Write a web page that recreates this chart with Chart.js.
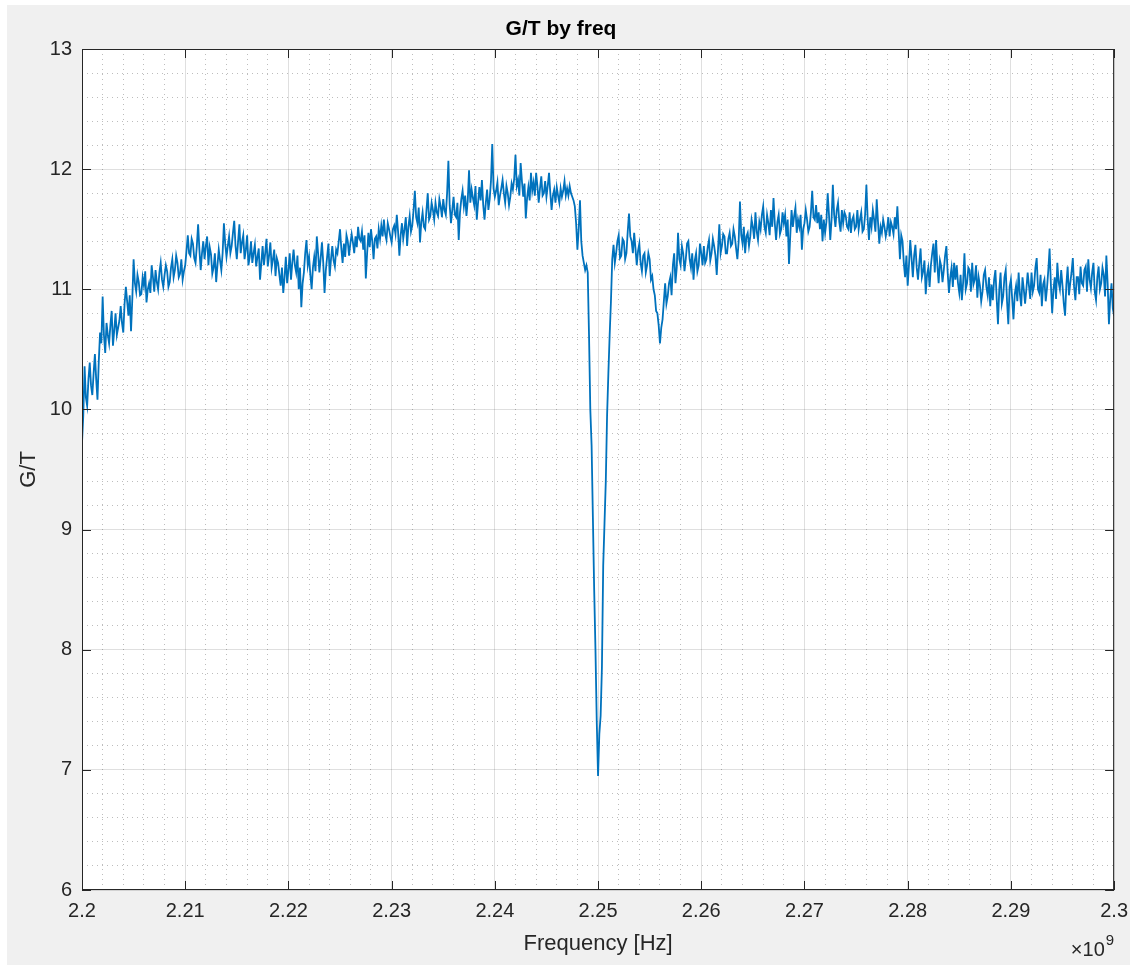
<!DOCTYPE html>
<html lang="en">
  <head>
    <meta charset="UTF-8" />
    <title>G/T by freq</title>
    <script src="https://cdn.jsdelivr.net/npm/chart.js"></script>
    <style>
      html, body { margin: 0; padding: 0; background: #ffffff; }
      #frame { position: absolute; left: 7px; top: 5px; width: 1123px; height: 960px; background: #f0f0f0; }
      #gtChart { position: absolute; left: 0; top: 0; }
    </style>
  </head>
  <body>
    <div id="frame"></div>
    <canvas id="gtChart" width="1137" height="972"></canvas>
    <script>
      // sweep: 2.20 - 2.30 GHz, one sample every 0.125 MHz, split in 20 MHz blocks
      const freqStep = 0.000125;
      const blockStarts = [2.2, 2.22, 2.24, 2.26, 2.28];

      const gt2200 = [
        9.72, 9.95, 10.36, 10.10, 10.03, 10.25, 10.39, 10.20, 10.12, 10.30,
        10.46, 10.25, 10.08, 10.40, 10.64, 10.55, 10.94, 10.62, 10.47, 10.72,
        10.62, 10.55, 10.70, 10.82, 10.53, 10.66, 10.80, 10.62, 10.68, 10.74,
        10.86, 10.72, 10.64, 10.88, 11.02, 10.90, 10.78, 10.95, 10.65, 10.92,
        11.25, 11.05, 10.98, 11.12, 11.06, 10.95, 10.96, 11.10, 11.03, 11.15,
        10.89, 11.00, 11.05, 10.97, 11.20, 11.10, 10.98, 11.16, 11.06, 11.00,
        11.14, 11.22, 11.08, 11.02, 11.12, 11.20, 11.15, 11.02, 11.06, 11.18,
        11.25, 11.10, 11.16, 11.28, 11.22, 11.10, 11.13, 11.25, 11.08, 11.15,
        11.20, 11.32, 11.45, 11.30, 11.28, 11.42, 11.38, 11.26, 11.22, 11.36,
        11.54, 11.33, 11.16, 11.30, 11.40, 11.25, 11.36, 11.44, 11.20, 11.35,
        11.29, 11.13, 11.18, 11.30, 11.06, 11.20, 11.33, 11.24, 11.16, 11.30,
        11.55, 11.38, 11.27, 11.36, 11.44, 11.30, 11.36, 11.47, 11.57, 11.36,
        11.25, 11.40, 11.54, 11.30, 11.39, 11.45, 11.25, 11.33, 11.45, 11.20,
        11.27, 11.40, 11.22, 11.30, 11.37, 11.19, 11.27, 11.34, 11.08, 11.22,
        11.36, 11.20, 11.30, 11.42, 11.19, 11.28, 11.39, 11.18, 11.25, 11.33,
        11.11, 11.26, 11.22, 11.12, 11.03, 11.18, 10.97, 11.10, 11.27, 11.05,
      ];
      const gt2220 = [
        11.16, 11.30, 11.08, 11.22, 11.33, 11.20, 11.14, 11.28, 11.00, 11.18,
        10.85, 11.05, 11.14, 11.30, 11.41, 11.20, 11.27, 11.12, 11.00, 11.18,
        11.27, 11.15, 11.44, 11.30, 11.14, 11.26, 11.39, 11.22, 10.97, 11.16,
        11.27, 11.38, 11.11, 11.25, 11.36, 11.24, 11.19, 11.33, 11.30, 11.40,
        11.50, 11.34, 11.22, 11.38, 11.27, 11.45, 11.40, 11.28, 11.38, 11.46,
        11.39, 11.30, 11.44, 11.35, 11.52, 11.42, 11.40, 11.48, 11.33, 11.45,
        11.09, 11.30, 11.47, 11.35, 11.50, 11.40, 11.25, 11.42, 11.44, 11.34,
        11.50, 11.42, 11.53, 11.44, 11.58, 11.46, 11.41, 11.55, 11.50, 11.44,
        11.39, 11.50, 11.53, 11.46, 11.62, 11.48, 11.28, 11.45, 11.55, 11.42,
        11.50, 11.60, 11.36, 11.52, 11.61, 11.48, 11.53, 11.66, 11.82, 11.60,
        11.55, 11.68, 11.39, 11.56, 11.64, 11.52, 11.50, 11.66, 11.80, 11.58,
        11.61, 11.72, 11.66, 11.58, 11.72, 11.64, 11.61, 11.75, 11.69, 11.60,
        11.75, 11.66, 11.62, 11.80, 12.07, 11.70, 11.55, 11.66, 11.77, 11.62,
        11.60, 11.72, 11.41, 11.64, 11.75, 11.82, 11.69, 11.78, 11.61, 11.74,
        11.99, 11.72, 11.83, 11.76, 11.70, 11.86, 11.58, 11.72, 11.85, 11.74,
        11.91, 11.70, 11.58, 11.72, 11.83, 11.66, 11.75, 11.90, 12.21, 11.84,
      ];
      const gt2240 = [
        11.77, 11.82, 11.89, 11.70, 11.78, 11.84, 11.91, 11.80, 11.72, 11.86,
        11.80, 11.70, 11.77, 11.88, 11.83, 11.92, 12.12, 11.86, 11.91, 11.78,
        12.05, 11.90, 11.77, 11.88, 11.59, 11.76, 11.85, 11.74, 11.97, 11.82,
        11.89, 11.78, 11.97, 11.86, 11.72, 11.84, 11.94, 11.78, 11.80, 11.90,
        11.77, 11.86, 11.97, 11.80, 11.66, 11.78, 11.83, 11.72, 11.85, 11.78,
        11.72, 11.84, 11.77, 11.82, 11.90, 11.78, 11.84, 11.78, 11.86, 11.80,
        11.77, 11.74, 11.69, 11.55, 11.33, 11.50, 11.74, 11.40, 11.28, 11.22,
        11.16, 11.20, 11.14, 10.62, 10.00, 9.70, 9.10, 8.50, 8.00, 7.40,
        6.95, 7.30, 7.45, 7.85, 8.70, 9.05, 9.40, 9.95, 10.30, 10.62,
        10.90, 11.25, 11.37, 11.22, 11.30, 11.40, 11.45, 11.26, 11.28, 11.42,
        11.40, 11.25, 11.30, 11.48, 11.63, 11.44, 11.40, 11.30, 11.47, 11.34,
        11.20, 11.32, 11.38, 11.22, 11.15, 11.28, 11.30, 11.14, 11.20, 11.30,
        11.25, 11.08, 11.11, 11.00, 10.95, 10.82, 10.80, 10.70, 10.55, 10.68,
        10.75, 10.90, 11.05, 10.88, 10.94, 11.05, 11.10, 10.95, 11.20, 11.30,
        11.05, 11.18, 11.47, 11.25, 11.20, 11.36, 11.30, 11.15, 11.25, 11.38,
        11.40, 11.25, 11.18, 11.30, 11.08, 11.24, 11.30, 11.15, 11.20, 11.38,
      ];
      const gt2260 = [
        11.30, 11.20, 11.36, 11.22, 11.25, 11.35, 11.41, 11.24, 11.30, 11.42,
        11.36, 11.28, 11.12, 11.33, 11.54, 11.30, 11.36, 11.46, 11.44, 11.30,
        11.30, 11.42, 11.47, 11.36, 11.38, 11.50, 11.44, 11.34, 11.25, 11.40,
        11.73, 11.45, 11.38, 11.52, 11.30, 11.44, 11.47, 11.36, 11.44, 11.58,
        11.52, 11.42, 11.64, 11.48, 11.41, 11.56, 11.50, 11.62, 11.69, 11.52,
        11.47, 11.62, 11.55, 11.45, 11.66, 11.52, 11.76, 11.55, 11.41, 11.56,
        11.62, 11.46, 11.50, 11.64, 11.55, 11.62, 11.44, 11.58, 11.21, 11.45,
        11.66, 11.52, 11.61, 11.68, 11.47, 11.58, 11.52, 11.62, 11.33, 11.50,
        11.55, 11.66, 11.58, 11.48, 11.52, 11.64, 11.82, 11.60, 11.58, 11.70,
        11.55, 11.64, 11.50, 11.62, 11.40, 11.58, 11.47, 11.56, 11.80, 11.62,
        11.41, 11.58, 11.87, 11.62, 11.52, 11.66, 11.72, 11.56, 11.48, 11.66,
        11.55, 11.64, 11.61, 11.52, 11.50, 11.64, 11.47, 11.58, 11.61, 11.50,
        11.52, 11.66, 11.50, 11.58, 11.64, 11.48, 11.50, 11.62, 11.87, 11.58,
        11.41, 11.60, 11.52, 11.66, 11.58, 11.48, 11.75, 11.56, 11.38, 11.52,
        11.47, 11.58, 11.52, 11.44, 11.50, 11.60, 11.44, 11.56, 11.52, 11.46,
        11.60, 11.50, 11.69, 11.48, 11.25, 11.45, 11.40, 11.22, 11.10, 11.28,
      ];
      const gt2280 = [
        11.03, 11.20, 11.41, 11.26, 11.10, 11.28, 11.37, 11.18, 11.08, 11.22,
        11.34, 11.10, 11.15, 11.24, 10.96, 11.12, 11.18, 11.02, 11.20, 11.30,
        11.38, 11.14, 11.41, 11.20, 11.05, 11.24, 11.19, 11.06, 11.16, 11.28,
        11.36, 11.14, 10.97, 11.10, 11.18, 11.02, 11.22, 11.08, 11.20, 11.05,
        10.97, 11.12, 10.91, 11.06, 11.30, 11.00, 11.05, 11.18, 11.16, 10.98,
        11.22, 11.04, 11.08, 11.20, 10.93, 11.10, 11.03, 10.90, 10.98, 11.12,
        11.16, 11.02, 10.95, 11.10, 10.86, 11.04, 10.91, 11.08, 11.16, 10.92,
        10.71, 11.00, 11.14, 10.88, 10.94, 11.10, 11.16, 10.90, 10.71, 11.02,
        11.08, 10.92, 10.75, 10.96, 11.03, 10.90, 11.14, 10.96, 10.86, 11.10,
        11.00, 10.88, 11.00, 11.14, 11.03, 10.92, 11.14, 10.98, 11.03, 11.18,
        11.26, 11.00, 10.97, 11.12, 10.86, 11.04, 11.08, 10.90, 11.01, 11.16,
        11.34, 11.04, 10.80, 11.00, 11.10, 10.92, 11.22, 11.06, 11.00, 11.16,
        11.03, 10.88, 10.78, 11.04, 11.19, 10.95, 11.05, 11.14, 11.26, 11.02,
        10.91, 11.10, 11.10, 10.96, 11.19, 11.05, 11.03, 11.16, 11.19, 10.98,
        11.25, 11.08, 11.01, 11.14, 11.22, 10.98, 10.91, 11.10, 11.19, 11.00,
        11.05, 11.18, 11.12, 10.94, 11.28, 11.05, 10.71, 10.92, 11.05, 10.84,
        10.78,
      ];
      const blocks = [gt2200, gt2220, gt2240, gt2260, gt2280];

      const xMin = 2.2, xMax = 2.3, xMajor = 0.01, xMinor = 0.002;
      const yMin = 6, yMax = 13, yMajor = 1, yMinor = 0.2;

      const axisColor = "#262626";
      const lineColor = "#0072bd";
      const majorGrid = "rgba(38,38,38,0.15)";
      const minorGrid = "rgba(38,38,38,0.3)";
      const fontFamily = "'Liberation Sans', Arial, Helvetica, sans-serif";
      const tickLen = 9;

      let points = [];
      blocks.forEach((vals, b) => {
        vals.forEach((v, i) => {
          points.push({ x: blockStarts[b] + i * freqStep, y: v });
        });
      });

      Chart.defaults.font.family = fontFamily;

      // minor lines are skipped where a major line already is
      function minorColor(step) {
        return (ctx) => {
          const r = ctx.tick.value / step;
          return Math.abs(r - Math.round(r)) < 1e-6 ? "rgba(0,0,0,0)" : minorGrid;
        };
      }

      // white axes box, inward ticks, box outline and the x10^9 exponent
      const matlabAxes = {
        id: "matlabAxes",
        beforeDraw(chart) {
          const { ctx, chartArea: a } = chart;
          ctx.save();
          ctx.fillStyle = "#ffffff";
          ctx.fillRect(a.left, a.top, a.right - a.left, a.bottom - a.top);
          ctx.restore();
        },
        afterDraw(chart) {
          const { ctx, chartArea: a, scales } = chart;
          ctx.save();
          ctx.strokeStyle = axisColor;
          ctx.lineWidth = 1;
          ctx.beginPath();
          scales.x.ticks.forEach((t) => {
            const px = Math.round(scales.x.getPixelForValue(t.value)) + 0.5;
            ctx.moveTo(px, a.bottom);
            ctx.lineTo(px, a.bottom - tickLen);
            ctx.moveTo(px, a.top);
            ctx.lineTo(px, a.top + tickLen);
          });
          scales.y.ticks.forEach((t) => {
            const py = Math.round(scales.y.getPixelForValue(t.value)) + 0.5;
            ctx.moveTo(a.left, py);
            ctx.lineTo(a.left + tickLen, py);
            ctx.moveTo(a.right, py);
            ctx.lineTo(a.right - tickLen, py);
          });
          ctx.stroke();
          ctx.strokeRect(a.left + 0.5, a.top + 0.5, a.right - a.left - 1, a.bottom - a.top - 1);

          ctx.fillStyle = axisColor;
          ctx.textAlign = "right";
          ctx.textBaseline = "alphabetic";
          ctx.font = "15px " + fontFamily;
          ctx.fillText("9", a.right, 945);
          const w9 = ctx.measureText("9").width;
          ctx.font = "20px " + fontFamily;
          ctx.fillText("\u00d710", a.right - w9 - 1, 956);
          ctx.restore();
        },
      };

      const chart = new Chart("gtChart", {
        type: "line",
        data: {
          datasets: [
            {
              label: "G/T",
              data: points,
              borderColor: lineColor,
              borderWidth: 1.8,
              pointRadius: 0,
              tension: 0,
              fill: false,
            },
          ],
        },
        options: {
          responsive: false,
          animation: false,
          devicePixelRatio: 1,
          layout: { padding: { left: 7, right: 22, top: 0, bottom: 7 } },
          plugins: {
            legend: { display: false },
            tooltip: { enabled: false },
            title: {
              display: true,
              text: "G/T by freq",
              color: "#000000",
              font: { size: 21, weight: "bold" },
              padding: { top: 17, bottom: 6.8 },
            },
          },
          scales: {
            x: {
              type: "linear",
              position: "bottom",
              min: xMin,
              max: xMax,
              afterFit: (s) => { s.height = 75; },
              ticks: {
                stepSize: xMajor,
                autoSkip: false,
                maxRotation: 0,
                padding: 9,
                color: axisColor,
                font: { size: 20 },
                callback: (v) => String(Math.round(v * 100) / 100),
              },
              grid: { color: majorGrid, drawTicks: false },
              border: { display: false },
              title: {
                display: true,
                text: "Frequency [Hz]",
                color: axisColor,
                font: { size: 22 },
                padding: { top: 0, bottom: 7.5 },
              },
            },
            y: {
              type: "linear",
              position: "left",
              min: yMin,
              max: yMax,
              afterFit: (s) => { s.width = 75; },
              ticks: {
                stepSize: yMajor,
                padding: 10,
                color: axisColor,
                font: { size: 20 },
              },
              grid: { color: majorGrid, drawTicks: false },
              border: { display: false },
              title: {
                display: true,
                text: "G/T",
                color: axisColor,
                font: { size: 22 },
                padding: { top: 8.8, bottom: 0 },
              },
            },
            // minor dotted grid
            x2: {
              type: "linear",
              axis: "x",
              position: "top",
              min: xMin,
              max: xMax,
              afterFit: (s) => { s.height = 0; },
              ticks: { display: false, stepSize: xMinor },
              grid: { color: minorColor(xMajor), drawTicks: false },
              border: { display: false, dash: [1, 4] },
            },
            y2: {
              type: "linear",
              axis: "y",
              position: "right",
              min: yMin,
              max: yMax,
              afterFit: (s) => { s.width = 0; },
              ticks: { display: false, stepSize: yMinor },
              grid: { color: minorColor(yMajor), drawTicks: false },
              border: { display: false, dash: [1, 4] },
            },
          },
        },
        plugins: [matlabAxes],
      });
    </script>
  </body>
</html>
